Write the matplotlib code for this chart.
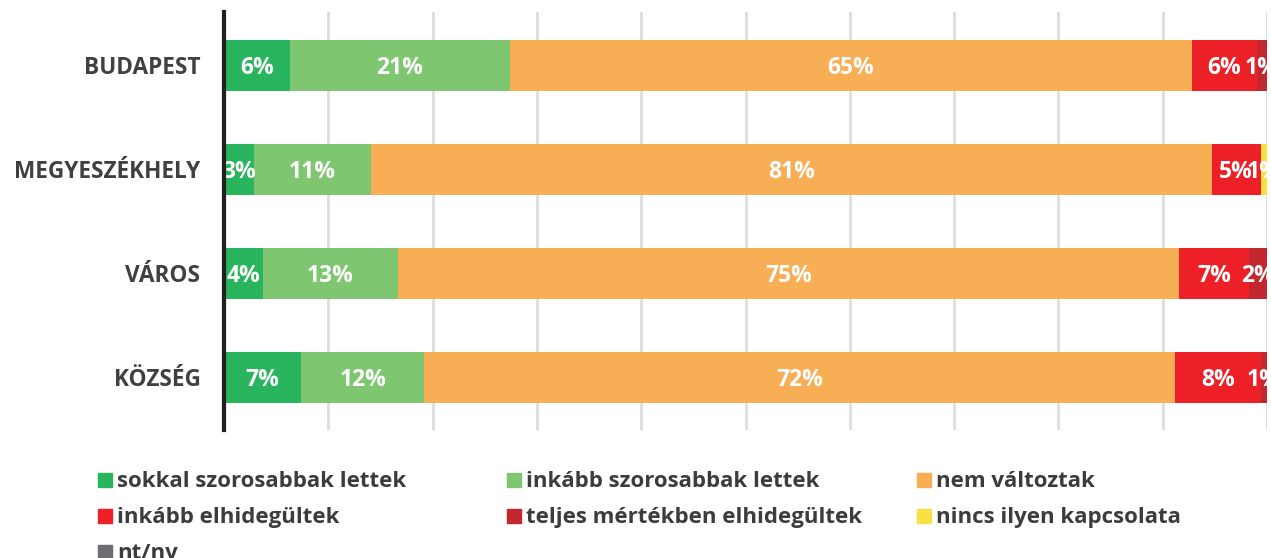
import matplotlib.pyplot as plt
from matplotlib.patches import Rectangle
import numpy as np

# categories (top to bottom) and series shares in percent
categories = ['BUDAPEST', 'MEGYESZÉKHELY', 'VÁROS', 'KÖZSÉG']
series = ['sokkal szorosabbak lettek', 'inkább szorosabbak lettek', 'nem változtak',
          'inkább elhidegültek', 'teljes mértékben elhidegültek', 'nincs ilyen kapcsolata', 'nt/nv']
colors = ['#29b45e', '#7fc671', '#f8ae54', '#ed1f27', '#c1272d', '#fbe043', '#6d6e71']

sokkal_szorosabb = [6.3, 2.9, 3.7, 7.4]
inkabb_szorosabb = [21.1, 11.2, 13.0, 11.8]
nem_valtoztak = [65.4, 80.6, 74.9, 72.0]
inkabb_elhidegult = [6.2, 4.7, 6.7, 8.2]
teljesen_elhidegult = [1.0, 0.0, 1.7, 0.6]
nincs_kapcsolat = [0.0, 0.6, 0.0, 0.0]
nt_nv = [0.0, 0.0, 0.0, 0.0]

values = [sokkal_szorosabb, inkabb_szorosabb, nem_valtoztak, inkabb_elhidegult,
          teljesen_elhidegult, nincs_kapcsolat, nt_nv]

plt.rcParams['font.family'] = ['Open Sans', 'DejaVu Sans']

W, H = 1271, 558
fig = plt.figure(figsize=(W / 100, H / 100), dpi=100)
ax = fig.add_axes([224 / W, 1 - 430 / H, 1043 / W, 418 / H])

y = np.arange(len(categories))
left = np.zeros(len(categories))
for name, vals, col in zip(series, values, colors):
    vals = np.array(vals)
    bars = ax.barh(y, vals, left=left, height=0.487, color=col, label=name, zorder=3)
    for b, v in zip(bars, vals):
        if v > 0:
            # baseline put under the bar centre so the digits sit in the middle
            ax.annotate(f'{v:.0f}%', (b.get_x() + b.get_width() / 2, b.get_y() + b.get_height() / 2),
                        xytext=(0, -6.3), textcoords='offset points',
                        ha='center', va='baseline', color='white',
                        fontsize=16.5, fontweight='bold', zorder=4)
    left += vals

ax.set_xlim(0, 100)
ax.set_ylim(3.505, -0.514)
ax.set_xticks(np.arange(10, 101, 10))
ax.set_xticklabels([])
ax.tick_params(axis='x', length=0)
ax.grid(axis='x', color='#dddddd', linewidth=2.0, zorder=0)
ax.set_axisbelow(True)

ax.set_yticks(y)
ax.set_yticklabels(categories, fontsize=16.3, fontweight='bold', color='#404040')
ax.tick_params(axis='y', length=0, pad=17)
for t in ax.get_yticklabels():
    t.set_y(t.get_position()[1])

for s in ['top', 'right', 'bottom']:
    ax.spines[s].set_visible(False)
ax.spines['left'].set_color('#231f20')
ax.spines['left'].set_linewidth(3)
ax.spines['left'].set_zorder(5)

# legend, 3 columns laid out row by row
col_x = [98, 507, 917]
row_base = [487, 523, 559]
for i, (name, col) in enumerate(zip(series, colors)):
    cx = col_x[i % 3]
    by = row_base[i // 3]
    fig.patches.append(Rectangle((cx / W, 1 - by / H), 14 / W, 14 / H,
                                 transform=fig.transFigure, color=col))
    fig.text((cx + 19) / W, 1 - by / H, name, ha='left', va='baseline',
             fontsize=16, fontweight='bold', color='#3c3c3c')

fig.savefig('out.png', dpi=100)
